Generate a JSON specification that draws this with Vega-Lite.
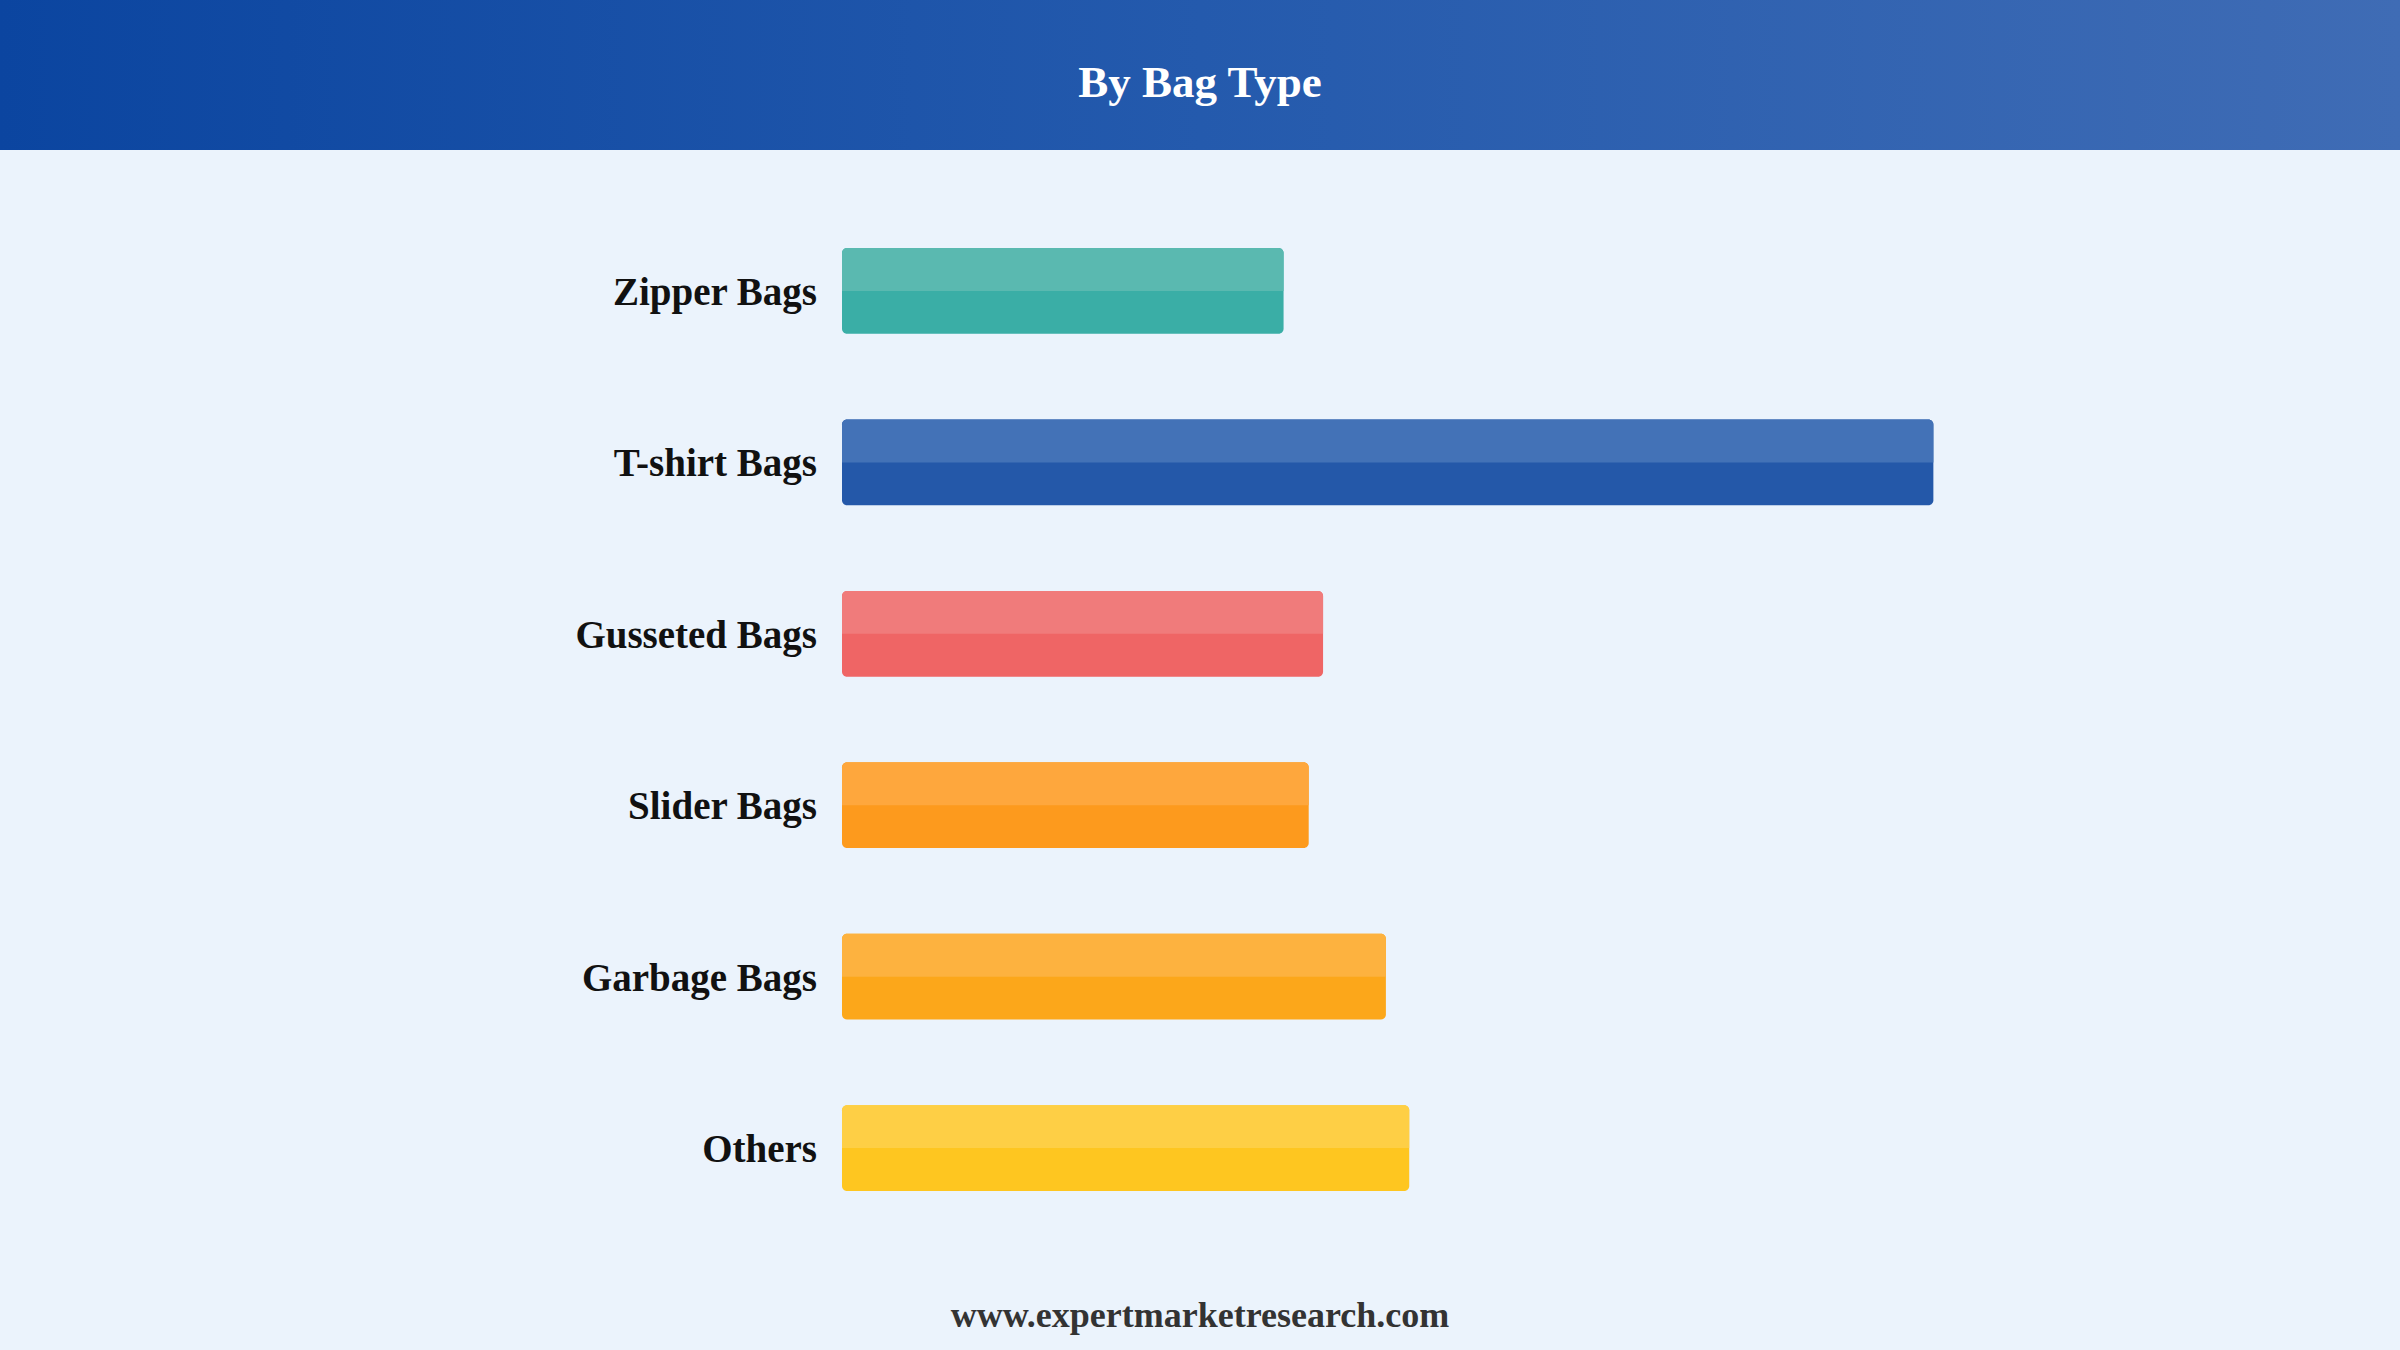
{
  "$schema": "https://vega.github.io/schema/vega-lite/v6.json",
  "background": "#EBF3FC",
  "padding": 0,
  "spacing": 0,
  "config": {"view": {"stroke": null}, "concat": {"spacing": 0}},
  "vconcat": [
    {
      "width": 2400,
      "height": 150,
      "data": {"values": [{"title": "By Bag Type"}]},
      "layer": [
        {
          "mark": {
            "type": "rect",
            "fill": {
              "gradient": "linear",
              "x1": 0, "y1": 0, "x2": 1, "y2": 0,
              "stops": [
                {"offset": 0, "color": "#0B45A0"},
                {"offset": 0.5, "color": "#245AAD"},
                {"offset": 1, "color": "#3F6CB5"}
              ]
            }
          },
          "encoding": {}
        },
        {
          "mark": {
            "type": "text",
            "font": "Liberation Serif",
            "fontWeight": "bold",
            "fontSize": 45,
            "color": "#FFFFFF",
            "baseline": "middle",
            "align": "center",
            "dy": 8
          },
          "encoding": {"text": {"field": "title"}}
        }
      ]
    },
    {
      "width": 2400,
      "height": 1139,
      "data": {
        "values": [
          {"bag": "Zipper Bags", "share": 12.3},
          {"bag": "T-shirt Bags", "share": 30.4},
          {"bag": "Gusseted Bags", "share": 13.4},
          {"bag": "Slider Bags", "share": 13.0},
          {"bag": "Garbage Bags", "share": 15.15},
          {"bag": "Others", "share": 15.8}
        ]
      },
      "encoding": {
        "y": {
          "field": "bag",
          "type": "nominal",
          "sort": null,
          "axis": null,
          "scale": {"paddingInner": 0.5, "paddingOuter": 0.572}
        }
      },
      "layer": [
        {
          "mark": {"type": "bar", "cornerRadius": 5},
          "encoding": {
            "x": {
              "field": "share",
              "type": "quantitative",
              "axis": null,
              "scale": {"domain": [-23.454, 43.398], "nice": false, "zero": false}
            },
            "x2": {"datum": 0},
            "color": {
              "field": "bag",
              "type": "nominal",
              "legend": null,
              "scale": {
                "domain": ["Zipper Bags", "T-shirt Bags", "Gusseted Bags", "Slider Bags", "Garbage Bags", "Others"],
                "range": ["#3AAEA6", "#2458A9", "#EF6565", "#FD9A1D", "#FCA71A", "#FEC620"]
              }
            }
          }
        },
        {
          "mark": {
            "type": "bar",
            "cornerRadiusTopLeft": 5,
            "cornerRadiusTopRight": 5,
            "height": {"band": 0.5},
            "yOffset": -21.4
          },
          "encoding": {
            "x": {"field": "share", "type": "quantitative"},
            "x2": {"datum": 0},
            "fill": {
              "field": "bag",
              "type": "nominal",
              "legend": null,
              "scale": {
                "domain": ["Zipper Bags", "T-shirt Bags", "Gusseted Bags", "Slider Bags", "Garbage Bags", "Others"],
                "range": ["#5AB9B0", "#4372B7", "#F07B7B", "#FEA73D", "#FDB23F", "#FECF45"]
              }
            }
          }
        },
        {
          "mark": {
            "type": "text",
            "font": "Liberation Serif",
            "fontWeight": "bold",
            "fontSize": 39,
            "color": "#111111",
            "align": "right",
            "baseline": "middle",
            "dx": -25,
            "dy": 2
          },
          "encoding": {
            "x": {"datum": 0},
            "text": {"field": "bag"}
          }
        }
      ],
      "resolve": {"scale": {"color": "independent", "fill": "independent"}}
    },
    {
      "width": 2400,
      "height": 61,
      "data": {"values": [{"site": "www.expertmarketresearch.com"}]},
      "mark": {
        "type": "text",
        "font": "Liberation Serif",
        "fontWeight": "bold",
        "fontSize": 36,
        "color": "#333333",
        "align": "center",
        "baseline": "middle",
        "dy": -4
      },
      "encoding": {"text": {"field": "site"}}
    }
  ]
}
